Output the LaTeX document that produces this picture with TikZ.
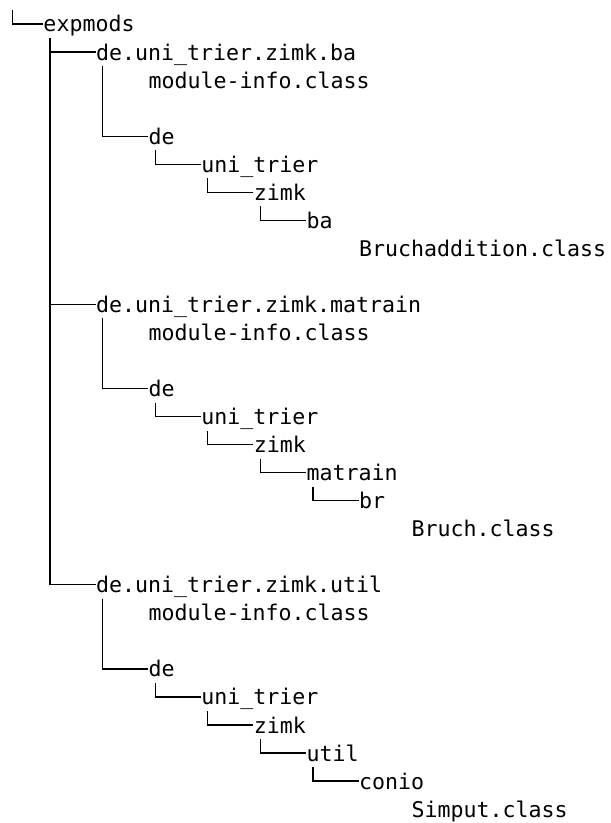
\documentclass[tikz,border=0pt]{standalone}
\usepackage{fontspec}
\setmonofont{DejaVu Sans Mono}
\begin{document}
\begin{tikzpicture}[x=52.6pt,y=-28.04pt,
  entry/.style={anchor=base west,inner sep=0pt,outer sep=0pt,
    font=\ttfamily\fontsize{21.6pt}{28pt}\selectfont},
  branch/.style={line width=1.3pt,black}]
\useasboundingbox (-0.827,-1.141) rectangle (10.789,28.210);
\newcommand{\edge}[2]{\draw[branch] ([xshift=6.5pt,yshift=-6pt]#1.base west) |- ([xshift=-0.5pt,yshift=8pt]#2.base west);}
% root
\coordinate (top) at (-0.59,-0.78);
\node[entry] (expmods) at (0,0) {expmods};
% ba module
\node[entry] (mba) at (1,1) {de.uni\_trier.zimk.ba};
\node[entry] (mi1) at (2,2) {module-info.class};
\node[entry] (de1) at (2,4) {de};
\node[entry] (ut1) at (3,5) {uni\_trier};
\node[entry] (zk1) at (4,6) {zimk};
\node[entry] (ba1) at (5,7) {ba};
\node[entry] (f1) at (6,8) {Bruchaddition.class};
% matrain module
\node[entry] (mmt) at (1,10) {de.uni\_trier.zimk.matrain};
\node[entry] (mi2) at (2,11) {module-info.class};
\node[entry] (de2) at (2,13) {de};
\node[entry] (ut2) at (3,14) {uni\_trier};
\node[entry] (zk2) at (4,15) {zimk};
\node[entry] (mt2) at (5,16) {matrain};
\node[entry] (br2) at (6,17) {br};
\node[entry] (f2) at (7,18) {Bruch.class};
% util module
\node[entry] (mut) at (1,20) {de.uni\_trier.zimk.util};
\node[entry] (mi3) at (2,21) {module-info.class};
\node[entry] (de3) at (2,23) {de};
\node[entry] (ut3) at (3,24) {uni\_trier};
\node[entry] (zk3) at (4,25) {zimk};
\node[entry] (ul3) at (5,26) {util};
\node[entry] (cn3) at (6,27) {conio};
\node[entry] (f3) at (7,28) {Simput.class};
% connectors
\draw[branch] (top) |- ([xshift=-0.5pt,yshift=8pt]expmods.base west);
\edge{expmods}{mba}
\edge{expmods}{mmt}
\edge{expmods}{mut}
\edge{mba}{de1}
\edge{de1}{ut1}
\edge{ut1}{zk1}
\edge{zk1}{ba1}
\edge{mmt}{de2}
\edge{de2}{ut2}
\edge{ut2}{zk2}
\edge{zk2}{mt2}
\edge{mt2}{br2}
\edge{mut}{de3}
\edge{de3}{ut3}
\edge{ut3}{zk3}
\edge{zk3}{ul3}
\edge{ul3}{cn3}
\end{tikzpicture}
\end{document}
